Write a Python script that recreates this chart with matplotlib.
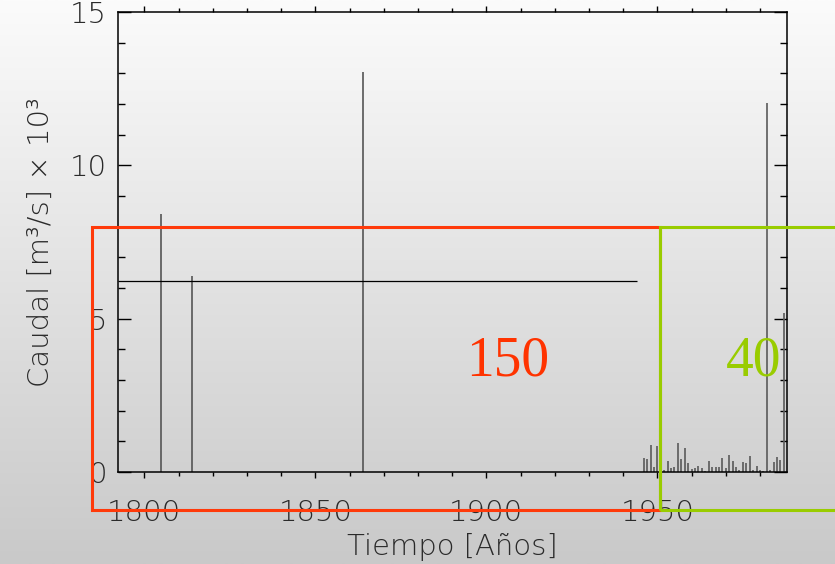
import numpy as np
import matplotlib.pyplot as plt
from matplotlib.patches import Rectangle
from matplotlib.ticker import MultipleLocator

# Crecidas historicas (caudal en miles de m3/s)
anios_hist = [1805, 1814, 1864]
caudal_hist = [8.41, 6.39, 13.03]

# Registro sistematico 1946-1987
anios_reg = list(range(1946, 1988))
caudal_reg = [0.46, 0.43, 0.87, 0.16, 0.85, 0.29, 0.08, 0.36, 0.13, 0.16,
              0.95, 0.43, 0.78, 0.28, 0.09, 0.13, 0.20, 0.12, 0.03, 0.35,
              0.15, 0.15, 0.15, 0.46, 0.12, 0.54, 0.36, 0.15, 0.07, 0.33,
              0.30, 0.51, 0.08, 0.21, 0.08, 0.03, 12.03, 0.05, 0.33, 0.49,
              0.40, 5.19]

# Umbral horizontal
umbral = 6.22
umbral_fin = 1944

fuente = 'DejaVu Sans'
peso = 'light'
color_txt = '#2a2a2a'

fig = plt.figure(figsize=(8.35, 5.64), dpi=100)

# fondo degradado
bg = fig.add_axes([0, 0, 1, 1], zorder=-10)
grad = np.linspace(0, 1, 256).reshape(-1, 1)
bg.imshow(grad, aspect='auto', cmap=plt.matplotlib.colors.LinearSegmentedColormap.from_list(
    'g', ['#fbfbfb', '#c9c9c9']), extent=[0, 1, 0, 1], origin='upper')
bg.axis('off')

ax = fig.add_axes([0.1413, 0.1631, 0.8012, 0.8156])
ax.patch.set_alpha(0)

ax.vlines(anios_hist, 0, caudal_hist, color='#555555', lw=1.2)
ax.vlines(anios_reg, 0, caudal_reg, color='#5a5a5a', lw=1.2)
ax.hlines(umbral, 1792.3, umbral_fin, color='black', lw=0.9)

ax.set_xlim(1792.3, 1987.9)
ax.set_ylim(0, 15)

ax.xaxis.set_major_locator(MultipleLocator(50))
ax.xaxis.set_minor_locator(MultipleLocator(10))
ax.yaxis.set_major_locator(MultipleLocator(5))
ax.yaxis.set_minor_locator(MultipleLocator(1))

ax.tick_params(axis='x', which='both', direction='out', top=True, bottom=True,
               width=1, color='black')
ax.tick_params(axis='x', which='major', length=4.5, pad=15)
ax.tick_params(axis='x', which='minor', length=3)
ax.tick_params(axis='y', which='both', direction='in', left=True, right=True,
               width=1, color='black')
ax.tick_params(axis='y', which='major', length=9.5, pad=8)
ax.tick_params(axis='y', which='minor', length=5)

for lab in ax.get_xticklabels() + ax.get_yticklabels():
    lab.set_fontfamily(fuente)
    lab.set_fontweight(peso)
    lab.set_fontsize(21)
    lab.set_color(color_txt)

for s in ax.spines.values():
    s.set_linewidth(1.1)

ax.set_xlabel('Tiempo [Años]', fontsize=21, family=fuente, fontweight=peso,
              color=color_txt, labelpad=4)
ax.set_ylabel('Caudal [m³/s] × 10³', fontsize=21, family=fuente, fontweight=peso,
              color=color_txt, labelpad=11)

# recuadros de los periodos
rojo = '#ff3a0a'
verde = '#99cc00'
ax.add_patch(Rectangle((1784.7, -1.24), 1950.9 - 1784.7, 7.99 + 1.24,
                       fill=False, ec=rojo, lw=2.2, clip_on=False, zorder=5))
ax.add_patch(Rectangle((1950.9, -1.24), 2010 - 1950.9, 7.99 + 1.24,
                       fill=False, ec=verde, lw=2.2, clip_on=False, zorder=5))

ax.text(1906.3, 3.59, '150', color='#ff3300', fontsize=40, family='Liberation Serif',
        ha='center', va='center', zorder=6)
ax.text(1978.2, 3.59, '40', color=verde, fontsize=40, family='Liberation Serif',
        ha='center', va='center', zorder=6, clip_on=False)

fig.savefig('out.png', dpi=100)
